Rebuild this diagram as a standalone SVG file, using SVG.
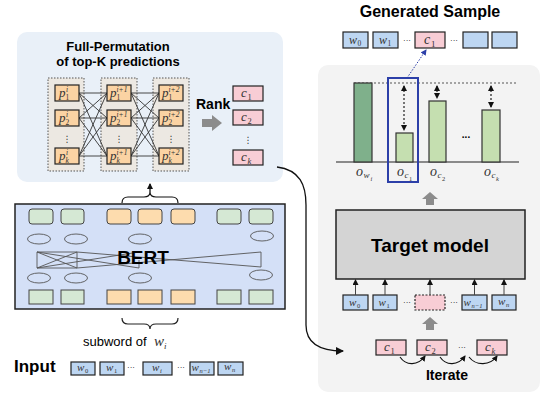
<svg xmlns="http://www.w3.org/2000/svg" width="543" height="397" viewBox="0 0 543 397">
<style>
.sans{font-family:"Liberation Sans",Arial,sans-serif}
.b{font-weight:bold}
.m{font-family:"Liberation Serif","Times New Roman",serif;font-style:italic;fill:#333}
.pbox{fill:#fbd3a3;stroke:#222;stroke-width:1.2}
.cbox{fill:#f8cdd5;stroke:#222;stroke-width:1.2}
.wbox{fill:#bdd6f2;stroke:#222;stroke-width:1.2}
.gbox{fill:#d5e8d4;stroke:#444;stroke-width:1}
.obox{fill:#fddcae;stroke:#444;stroke-width:1}
.col{fill:#ece8e2;stroke:#555;stroke-width:1;stroke-dasharray:1.5 1.5}
.ln{stroke:#333;stroke-width:0.9;fill:none}
.thin{stroke:#555;stroke-width:0.9;fill:none}
.dots{font-family:"DejaVu Sans",sans-serif;font-size:9px;fill:#333}
.garrow{fill:#8c8c8c}
.dda{stroke:#222;stroke-width:1.2;stroke-dasharray:2 2;fill:none}
</style>
<defs>
<marker id="ah" markerWidth="8" markerHeight="8" refX="7" refY="4" orient="auto" markerUnits="userSpaceOnUse"><path d="M0,0 L8,4 L0,8 z" fill="#111"/></marker>
<marker id="sa" markerWidth="6" markerHeight="6" refX="5" refY="3" orient="auto" markerUnits="userSpaceOnUse"><path d="M0,0 L6,3 L0,6 z" fill="#111"/></marker>
<marker id="sas" markerWidth="6" markerHeight="6" refX="1" refY="3" orient="auto" markerUnits="userSpaceOnUse"><path d="M6,0 L0,3 L6,6 z" fill="#111"/></marker>
<marker id="ba" markerWidth="6" markerHeight="6" refX="5" refY="3" orient="auto" markerUnits="userSpaceOnUse"><path d="M0,0 L6,3 L0,6 z" fill="#2c3fa8"/></marker>
</defs>

<!-- Panels -->
<rect x="17" y="32" width="266" height="150" rx="10" fill="#e9f0f8"/>
<rect x="318" y="65" width="222" height="327" rx="10" fill="#f3f3f3"/>

<g id="perm">
<text class="sans b" x="118" y="51" font-size="13" text-anchor="middle">Full-Permutation</text>
<text class="sans b" x="118" y="66" font-size="13" text-anchor="middle">of top-K predictions</text>
<rect class="col" x="48" y="78" width="36" height="93"/>
<rect class="col" x="101" y="78" width="36" height="93"/>
<rect class="col" x="153" y="78" width="36" height="93"/>
<g class="ln">
<path d="M79,93 L107,93 M79,93 L107,118 M79,93 L107,156 M79,118 L107,93 M79,118 L107,118 M79,118 L107,156 M79,156 L107,93 M79,156 L107,118 M79,156 L107,156"/>
<path d="M131,93 L159,93 M131,93 L159,118 M131,93 L159,156 M131,118 L159,93 M131,118 L159,118 M131,118 L159,156 M131,156 L159,93 M131,156 L159,118 M131,156 L159,156"/>
</g>
<rect class="pbox" x="55" y="85" width="24" height="16"/>
<rect class="pbox" x="55" y="110" width="24" height="16"/>
<rect class="pbox" x="55" y="148" width="24" height="16"/>
<rect class="pbox" x="107" y="85" width="24" height="16"/>
<rect class="pbox" x="107" y="110" width="24" height="16"/>
<rect class="pbox" x="107" y="148" width="24" height="16"/>
<rect class="pbox" x="159" y="85" width="24" height="16"/>
<rect class="pbox" x="159" y="110" width="24" height="16"/>
<rect class="pbox" x="159" y="148" width="24" height="16"/>
<g class="m">
<text x="59" y="97" font-size="13">p</text><text x="66" y="92" font-size="7.5">i</text><text x="65.5" y="99.5" font-size="7.5" font-style="normal">1</text>
<text x="59" y="122" font-size="13">p</text><text x="66" y="117" font-size="7.5">i</text><text x="65.5" y="124.5" font-size="7.5" font-style="normal">2</text>
<text x="59" y="160" font-size="13">p</text><text x="66" y="155" font-size="7.5">i</text><text x="65.5" y="162.5" font-size="7.5">k</text>
<text x="110" y="97" font-size="13">p</text><text x="116.5" y="92" font-size="7.5">i+1</text><text x="116.5" y="99.5" font-size="7.5" font-style="normal">1</text>
<text x="110" y="122" font-size="13">p</text><text x="116.5" y="117" font-size="7.5">i+1</text><text x="116.5" y="124.5" font-size="7.5" font-style="normal">2</text>
<text x="110" y="160" font-size="13">p</text><text x="116.5" y="155" font-size="7.5">i+1</text><text x="116.5" y="162.5" font-size="7.5">k</text>
<text x="162" y="97" font-size="13">p</text><text x="168.5" y="92" font-size="7.5">i+2</text><text x="168.5" y="99.5" font-size="7.5" font-style="normal">1</text>
<text x="162" y="122" font-size="13">p</text><text x="168.5" y="117" font-size="7.5">i+2</text><text x="168.5" y="124.5" font-size="7.5" font-style="normal">2</text>
<text x="162" y="160" font-size="13">p</text><text x="168.5" y="155" font-size="7.5">i+2</text><text x="168.5" y="162.5" font-size="7.5">k</text>
</g>
<text class="dots" x="67" y="142" text-anchor="middle">⋮</text>
<text class="dots" x="119" y="142" text-anchor="middle">⋮</text>
<text class="dots" x="171" y="142" text-anchor="middle">⋮</text>
</g>

<g id="rank">
<text class="sans b" x="196" y="109" font-size="14">Rank</text>
<path class="garrow" d="M202,119 L212,119 L212,115 L222,123 L212,131 L212,127 L202,127 z"/>
</g>

<g id="candidates-ranked">
<rect class="cbox" x="233" y="86" width="30" height="15"/>
<rect class="cbox" x="233" y="110" width="30" height="15"/>
<rect class="cbox" x="233" y="150" width="30" height="15"/>
<g class="m">
<text x="241" y="97" font-size="13">c</text><text x="247.5" y="99.5" font-size="8.5" font-style="normal">1</text>
<text x="241" y="121" font-size="13">c</text><text x="247.5" y="123.5" font-size="8.5" font-style="normal">2</text>
<text x="241" y="161" font-size="13">c</text><text x="247.5" y="163.5" font-size="8.5">k</text>
</g>
<text class="dots" x="248" y="143" text-anchor="middle">⋮</text>
</g>

<g id="bert">
<rect x="15" y="204" width="270" height="105" fill="#d4e0f7" stroke="#222" stroke-width="1.5"/>
<rect class="gbox" x="29" y="209" width="24" height="15" rx="3"/>
<rect class="gbox" x="61" y="209" width="23" height="15" rx="3"/>
<rect class="obox" x="107" y="209" width="24" height="15" rx="3"/>
<rect class="obox" x="138" y="209" width="24" height="15" rx="3"/>
<rect class="obox" x="171" y="209" width="24" height="15" rx="3"/>
<rect class="gbox" x="217" y="209" width="24" height="15" rx="3"/>
<rect class="gbox" x="249" y="209" width="24" height="15" rx="3"/>
<g class="thin">
<ellipse cx="39" cy="239" rx="11.5" ry="5"/>
<ellipse cx="76" cy="239" rx="11.5" ry="5"/>
<ellipse cx="140" cy="239" rx="11.5" ry="5"/>
<ellipse cx="262" cy="236" rx="11.5" ry="5"/>
<ellipse cx="39" cy="278" rx="11.5" ry="5"/>
<ellipse cx="76" cy="278" rx="11.5" ry="5"/>
<ellipse cx="140" cy="278" rx="11.5" ry="5"/>
<ellipse cx="261" cy="275" rx="11.5" ry="5"/>
<path d="M37,252 L37,268 M77,252 L77,268 M139,260 L139,268 M261,252 L261,267"/>
<path d="M37,252 L77,268 M37,268 L77,252 M37,252 L139,268 M37,268 L139,252 M77,252 L261,267 M77,268 L261,252 M37,252 L77,252 M37,268 L77,268"/>
</g>
<text class="sans b" x="143" y="264" font-size="19" text-anchor="middle">BERT</text>
<rect class="gbox" x="29" y="290" width="24" height="14"/>
<rect class="gbox" x="61" y="290" width="23" height="14"/>
<rect class="obox" x="107" y="290" width="24" height="14"/>
<rect class="obox" x="138" y="290" width="24" height="14"/>
<rect class="obox" x="171" y="290" width="24" height="14"/>
<rect class="gbox" x="217" y="290" width="24" height="14"/>
<rect class="gbox" x="249" y="290" width="24" height="14"/>
</g>

<g id="subword">
<path d="M122,318 Q122,324 128,324 L144,324 Q150,324 150,329 Q150,324 156,324 L172,324 Q178,324 178,318" fill="none" stroke="#222" stroke-width="1.2"/>
<text class="sans" x="83" y="346" font-size="13">subword of</text>
<text class="m" x="154" y="346" font-size="15">w</text><text class="m" x="164" y="349" font-size="9">i</text>
</g>

<g id="input">
<text class="sans b" x="14" y="372" font-size="17">Input</text>
<rect class="wbox" x="71" y="362" width="24" height="13"/>
<rect class="wbox" x="100" y="362" width="24" height="13"/>
<rect class="wbox" x="143" y="362" width="29" height="13"/>
<rect class="wbox" x="190" y="362" width="24" height="13"/>
<rect class="wbox" x="218" y="362" width="25" height="13"/>
<g class="m" font-size="11">
<text x="77" y="371">w</text><text x="85" y="373" font-size="6.5" font-style="normal">0</text>
<text x="106" y="371">w</text><text x="114" y="373" font-size="6.5" font-style="normal">1</text>
<text x="152" y="371">w</text><text x="160" y="373" font-size="6.5">i</text>
<text x="191.5" y="371">w</text><text x="199.5" y="373" font-size="6.5">n−1</text>
<text x="224" y="370">w</text><text x="232" y="372" font-size="6.5">n</text>
</g>
<text class="sans" x="131" y="370" font-size="8" text-anchor="middle">···</text>
<text class="sans" x="181" y="370" font-size="8" text-anchor="middle">···</text>
</g>

<g id="generated">
<text class="sans b" x="430" y="17" font-size="16" text-anchor="middle">Generated Sample</text>
<rect class="wbox" x="343" y="32" width="25" height="16"/>
<rect class="wbox" x="373" y="32" width="25" height="16"/>
<rect class="cbox" x="415" y="32" width="30" height="16"/>
<rect class="wbox" x="463" y="32" width="25" height="16"/>
<rect class="wbox" x="492" y="32" width="25" height="16"/>
<g class="m">
<text x="349" y="44" font-size="12">w</text><text x="357.5" y="46" font-size="7.5" font-style="normal">0</text>
<text x="379" y="44" font-size="12">w</text><text x="387.5" y="46" font-size="7.5" font-style="normal">1</text>
<text x="424" y="44" font-size="14">c</text><text x="431" y="46.5" font-size="9" font-style="normal">1</text>
</g>
<text class="sans" x="407" y="43" font-size="8" text-anchor="middle">···</text>
<text class="sans" x="454" y="43" font-size="8" text-anchor="middle">···</text>
</g>

<g id="bars">
<line x1="336" y1="162" x2="519" y2="162" stroke="#222" stroke-width="1.2"/>
<line x1="354" y1="83" x2="517" y2="83" stroke="#555" stroke-width="1.2" stroke-dasharray="2 2"/>
<rect x="354" y="83" width="18" height="79" fill="#7fb08b" stroke="#333" stroke-width="1.2"/>
<rect x="396" y="133" width="17" height="29" fill="#c5dfb0" stroke="#333" stroke-width="1.2"/>
<rect x="429" y="101" width="17" height="61" fill="#c5dfb0" stroke="#333" stroke-width="1.2"/>
<rect x="482" y="110" width="18" height="52" fill="#c5dfb0" stroke="#333" stroke-width="1.2"/>
<text class="sans b" x="466" y="138" font-size="10" text-anchor="middle">...</text>
<g class="m" font-size="14">
<text x="356" y="176">o</text><text x="363.5" y="178" font-size="9">w</text><text x="370.5" y="180.5" font-size="6.5">i</text>
<text x="397" y="176">o</text><text x="404.5" y="178" font-size="9">c</text><text x="409" y="180.5" font-size="6.5" font-style="normal">1</text>
<text x="430" y="176">o</text><text x="437.5" y="178" font-size="9">c</text><text x="442" y="180.5" font-size="6.5" font-style="normal">2</text>
<text x="484" y="176">o</text><text x="491.5" y="178" font-size="9">c</text><text x="496" y="180.5" font-size="6.5">k</text>
</g>
<path class="dda" d="M404,86 L404,130" marker-start="url(#sas)" marker-end="url(#sa)"/>
<path class="dda" d="M437,86 L437,98" marker-start="url(#sas)" marker-end="url(#sa)"/>
<path class="dda" d="M491,86 L491,107" marker-start="url(#sas)" marker-end="url(#sa)"/>
<rect x="388" y="78" width="30" height="104" fill="none" stroke="#2c3fa8" stroke-width="2"/>
</g>

<g id="target">
<path class="garrow" d="M422,199 L430,192 L438,199 L434,199 L434,205 L426,205 L426,199 z"/>
<rect x="336" y="210" width="189" height="69" fill="#d4d4d4" stroke="#222" stroke-width="1.5"/>
<text class="sans b" x="430" y="252" font-size="19" text-anchor="middle">Target model</text>
</g>

<g id="target-input">
<rect class="wbox" x="343" y="295" width="25" height="15"/>
<rect class="wbox" x="373" y="295" width="24" height="15"/>
<rect x="415" y="295" width="30" height="15" fill="#f8cdd5" stroke="#222" stroke-width="1.2" stroke-dasharray="2 1.5"/>
<rect class="wbox" x="462" y="295" width="25" height="15"/>
<rect class="wbox" x="492" y="295" width="24" height="15"/>
<g class="m" font-size="11">
<text x="349" y="306">w</text><text x="357" y="308" font-size="6.5" font-style="normal">0</text>
<text x="378.5" y="306">w</text><text x="386.5" y="308" font-size="6.5" font-style="normal">1</text>
<text x="463.5" y="306">w</text><text x="471.5" y="308" font-size="6.5">n−1</text>
<text x="498" y="305">w</text><text x="506" y="307" font-size="6.5">n</text>
</g>
<text class="sans" x="407" y="305" font-size="8" text-anchor="middle">···</text>
<text class="sans" x="454" y="305" font-size="8" text-anchor="middle">···</text>
<path class="garrow" d="M422,324 L430,317 L438,324 L434,324 L434,330 L426,330 L426,324 z"/>
</g>

<g id="iterate">
<rect class="cbox" x="376" y="340" width="30" height="15"/>
<rect class="cbox" x="417" y="340" width="30" height="15"/>
<rect class="cbox" x="477" y="340" width="30" height="15"/>
<g class="m">
<text x="384" y="351" font-size="13">c</text><text x="390.5" y="353.5" font-size="8.5" font-style="normal">1</text>
<text x="425" y="351" font-size="13">c</text><text x="431.5" y="353.5" font-size="8.5" font-style="normal">2</text>
<text x="485" y="351" font-size="13">c</text><text x="491.5" y="353.5" font-size="8.5">k</text>
</g>
<text class="sans" x="462" y="350" font-size="8" text-anchor="middle">···</text>
<text class="sans b" x="447" y="380" font-size="14" text-anchor="middle">Iterate</text>
</g>

<g id="connectors" fill="none" stroke="#111" stroke-width="1.3">
<path d="M150,192 L150,184" marker-end="url(#sa)"/>
<path d="M122,203 Q122,197 128,197 L144,197 Q150,197 150,192 Q150,197 156,197 L172,197 Q178,197 178,203" stroke-width="1.2"/>
<path d="M277,167 C300,170 306,185 306,205 L306,325 C306,342 318,351 343,351" marker-end="url(#ah)"/>
<path d="M407,78 L426,50" stroke="#2c3fa8" stroke-width="1" stroke-dasharray="1.5 1.5" marker-end="url(#ba)"/>
<g stroke="#444" stroke-width="1">
<path d="M355.5,295 L355.5,280" marker-end="url(#sa)"/>
<path d="M385,295 L385,280" marker-end="url(#sa)"/>
<path d="M430,295 L430,280" marker-end="url(#sa)"/>
<path d="M474.5,295 L474.5,280" marker-end="url(#sa)"/>
<path d="M504,295 L504,280" marker-end="url(#sa)"/>
</g>
<g stroke-width="1.1">
<path d="M400,357 C406,366 418,366 425,356" marker-end="url(#sa)"/>
<path d="M440,357 C446,366 458,366 465,356" marker-end="url(#sa)"/>
<path d="M469,357 C476,366 490,366 497,356" marker-end="url(#sa)"/>
</g>
</g>
</svg>
